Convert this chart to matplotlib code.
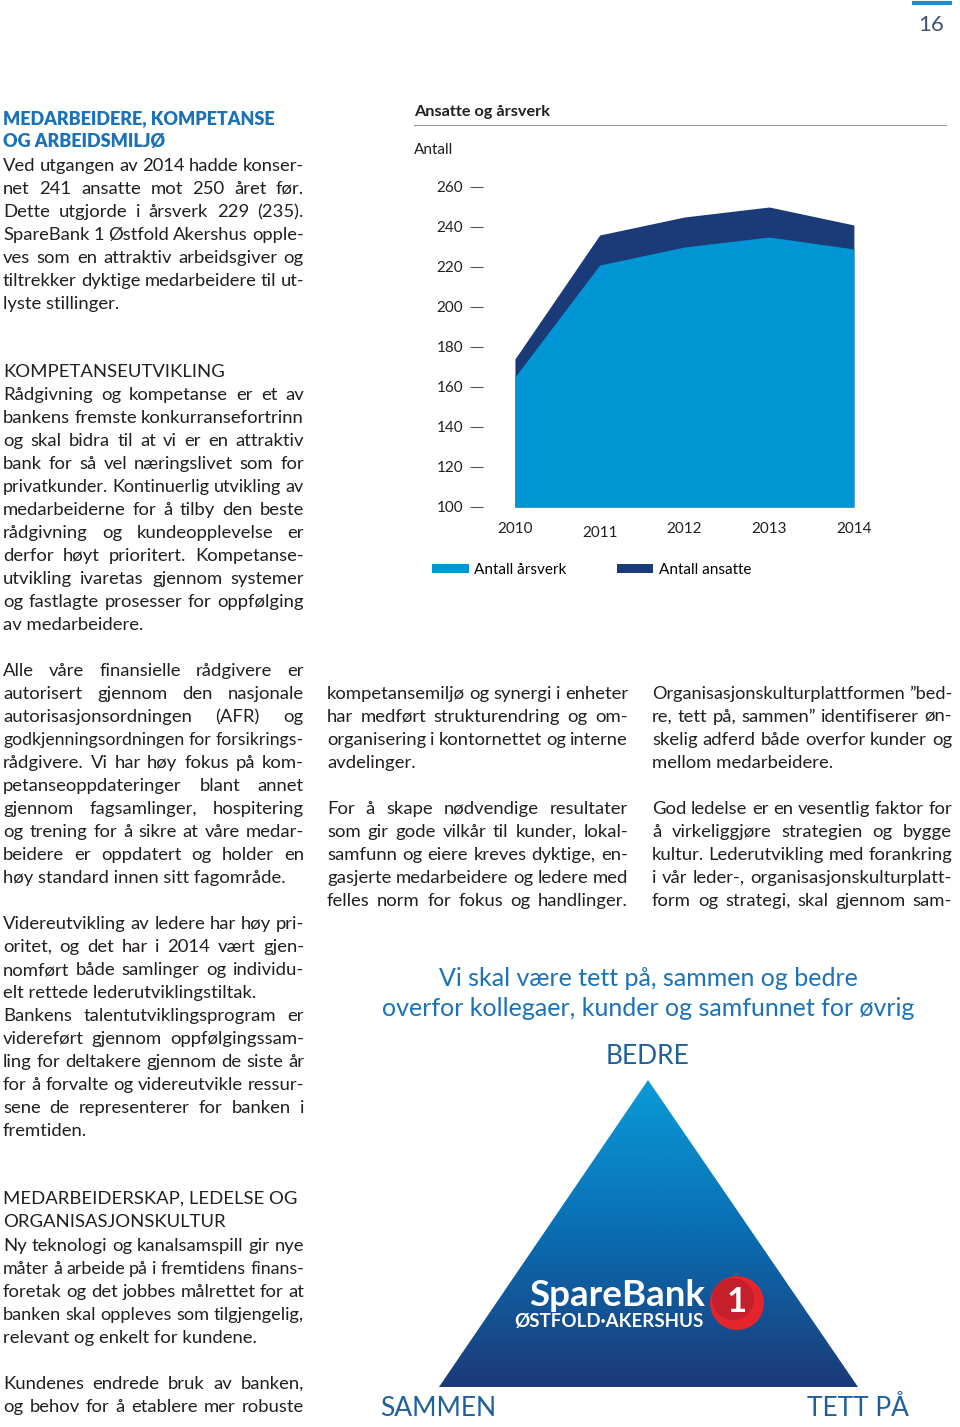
import matplotlib
matplotlib.use('Agg')
import matplotlib.pyplot as plt
import numpy as np
from matplotlib.patches import Polygon, Circle
from matplotlib.colors import LinearSegmentedColormap

FONT = 'Lato'
plt.rcParams['font.family'] = [FONT, 'DejaVu Sans']

# chart data
years = ['2010', '2011', '2012', '2013', '2014']
ansatte = [174, 236, 245, 250, 241]
arsverk = [165, 221, 230, 235, 229]
yticks = [100, 120, 140, 160, 180, 200, 220, 240, 260]

# page text
heading1 = ['MEDARBEIDERE, KOMPETANSE', 'OG ARBEIDSMILJØ']
para1 = ['Ved utgangen av 2014 hadde konser-',
         'net 241 ansatte mot 250 året før.',
         'Dette utgjorde i årsverk 229 (235).',
         'SpareBank 1 Østfold Akershus opple-',
         'ves som en attraktiv arbeidsgiver og',
         'tiltrekker dyktige medarbeidere til ut-',
         'lyste stillinger.']
heading2 = ['KOMPETANSEUTVIKLING']
para2 = ['Rådgivning og kompetanse er et av',
         'bankens fremste konkurransefortrinn',
         'og skal bidra til at vi er en attraktiv',
         'bank for så vel næringslivet som for',
         'privatkunder. Kontinuerlig utvikling av',
         'medarbeiderne for å tilby den beste',
         'rådgivning og kundeopplevelse er',
         'derfor høyt prioritert. Kompetanse-',
         'utvikling ivaretas gjennom systemer',
         'og fastlagte prosesser for oppfølging',
         'av medarbeidere.']
para3 = ['Alle våre finansielle rådgivere er',
         'autorisert gjennom den nasjonale',
         'autorisasjonsordningen (AFR) og',
         'godkjenningsordningen for forsikrings-',
         'rådgivere. Vi har høy fokus på kom-',
         'petanseoppdateringer blant annet',
         'gjennom fagsamlinger, hospitering',
         'og trening for å sikre at våre medar-',
         'beidere er oppdatert og holder en',
         'høy standard innen sitt fagområde.']
para4 = ['Videreutvikling av ledere har høy pri-',
         'oritet, og det har i 2014 vært gjen-',
         'nomført både samlinger og individu-',
         'elt rettede lederutviklingstiltak.']
para5 = ['Bankens talentutviklingsprogram er',
         'videreført gjennom oppfølgingssam-',
         'ling for deltakere gjennom de siste år',
         'for å forvalte og videreutvikle ressur-',
         'sene de representerer for banken i',
         'fremtiden.']
heading3 = ['MEDARBEIDERSKAP, LEDELSE OG', 'ORGANISASJONSKULTUR']
para6 = ['Ny teknologi og kanalsamspill gir nye',
         'måter å arbeide på i fremtidens finans-',
         'foretak og det jobbes målrettet for at',
         'banken skal oppleves som tilgjengelig,',
         'relevant og enkelt for kundene.']
para7 = ['Kundenes endrede bruk av banken,',
         'og behov for å etablere mer robuste']
mid1 = ['kompetansemiljø og synergi i enheter',
        'har medført strukturendring og om-',
        'organisering i kontornettet og interne',
        'avdelinger.']
mid2 = ['For å skape nødvendige resultater',
        'som gir gode vilkår til kunder, lokal-',
        'samfunn og eiere kreves dyktige, en-',
        'gasjerte medarbeidere og ledere med',
        'felles norm for fokus og handlinger.']
right1 = ['Organisasjonskulturplattformen \u201dbed-',
          're, tett på, sammen\u201d identifiserer øn-',
          'skelig adferd både overfor kunder og',
          'mellom medarbeidere.']
right2 = ['God ledelse er en vesentlig faktor for',
          'å virkeliggjøre strategien og bygge',
          'kultur. Lederutvikling med forankring',
          'i vår leder-, organisasjonskulturplatt-',
          'form og strategi, skal gjennom sam-']
quote = ['Vi skal være tett på, sammen og bedre',
         'overfor kollegaer, kunder og samfunnet for øvrig']

light_blue = '#0096d6'
navy = '#1b3a78'
text_col = '#231f20'
accent = '#1b72b8'
BODY = 13.3
LS = 23.0
MIN_GAP = 4.0

W, H = 960, 1427
fig = plt.figure(figsize=(W / 100, H / 100), dpi=100)
page = fig.add_axes([0, 0, 1, 1])
page.axis('off')
renderer = fig.canvas.get_renderer()


def fig_rect(x0, y0, x1, y1):
    return [x0 / W, 1 - y1 / H, (x1 - x0) / W, (y1 - y0) / H]


def word_w(s, size, weight):
    t = page.text(0, 0, s, fontsize=size, fontweight=weight)
    w = t.get_window_extent(renderer).width
    t.remove()
    return w


def draw_lines(x0, x1, y0, lines, justify=True, last_justified=False,
               size=BODY, color=text_col, weight='normal'):
    for i, line in enumerate(lines):
        y = y0 + i * LS
        words = line.split(' ')
        is_last = i == len(lines) - 1
        if not justify or len(words) == 1 or (is_last and not last_justified):
            page.text(x0, y, line, fontsize=size, color=color,
                      fontweight=weight, ha='left', va='center')
            continue
        fs = size
        widths = [word_w(w, fs, weight) for w in words]
        # shrink a too-long line a little so word gaps never collapse
        while sum(widths) + MIN_GAP * (len(words) - 1) > x1 - x0:
            fs -= 0.1
            widths = [word_w(w, fs, weight) for w in words]
        gap = (x1 - x0 - sum(widths)) / (len(words) - 1)
        xx = x0
        for w, wd in zip(words, widths):
            page.text(xx, y, w, fontsize=fs, color=color,
                      fontweight=weight, ha='left', va='center')
            xx += wd + gap


# left column
draw_lines(3, 304, 119, heading1, justify=False, size=13.0, color=accent, weight='heavy')
draw_lines(3, 304, 166, para1)
draw_lines(3, 304, 372, heading2, justify=False)
draw_lines(3, 304, 395, para2)
draw_lines(3, 304, 671, para3)
draw_lines(3, 304, 924, para4)
draw_lines(3, 304, 1016, para5)
draw_lines(3, 304, 1199, heading3, justify=False)
draw_lines(3, 304, 1246, para6)
draw_lines(3, 304, 1384, para7, last_justified=True)
# middle and right columns
draw_lines(327, 628, 694, mid1)
draw_lines(327, 628, 809, mid2, last_justified=True)
draw_lines(652, 952, 694, right1)
draw_lines(652, 952, 809, right2, last_justified=True)

# page number
page.plot([912, 952], [3, 3], color='#1a8fd0', lw=3, solid_capstyle='butt')
page.text(931, 25, '16', fontsize=16, color='#3e5570', ha='center', va='center')

# quote + triangle
for i, q in enumerate(quote):
    page.text(648, 979 + i * 29, q, fontsize=18, color=accent, ha='center', va='center')
page.text(648, 1056, 'BEDRE', fontsize=19, color='#1f5f9e', ha='center', va='center')
page.text(438, 1409, 'SAMMEN', fontsize=19, color='#1f5f9e', ha='center', va='center')
page.text(858, 1409, 'TETT PÅ', fontsize=19, color='#1f5f9e', ha='center', va='center')

tri = Polygon([(439, 1387), (648, 1080), (858, 1387)], closed=True,
              facecolor='none', edgecolor='none')
page.add_patch(tri)
grad = np.linspace(0, 1, 256).reshape(-1, 1)
cmap = LinearSegmentedColormap.from_list('tri', ['#0a9bd8', '#0a6db2', '#1c3a78'])
im = page.imshow(grad, extent=(439, 858, 1387, 1080), cmap=cmap,
                 aspect='auto', zorder=1)
im.set_clip_path(tri)

page.text(617, 1296, 'SpareBank', fontsize=26.5, fontweight='bold', color='white',
          ha='center', va='center', zorder=3)
page.text(609, 1322, 'ØSTFOLD\u00b7AKERSHUS', fontsize=13.5, fontweight='bold',
          color='white', ha='center', va='center', zorder=3)
page.add_patch(Circle((737, 1303), 27, facecolor='#e2262b', edgecolor='none', zorder=3))
page.add_patch(Circle((733, 1299), 21, facecolor='#c41f2a', edgecolor='none', zorder=3))
page.text(737, 1302, '1', fontsize=25, fontweight='bold', color='white',
          ha='center', va='center', zorder=4)

# chart header
page.text(414, 112, 'Ansatte og årsverk', fontsize=11.7, fontweight='bold',
          color=text_col, ha='left', va='center')
page.plot([414, 946], [125, 125], color='#9a9a9a', lw=0.8)
page.text(414, 150, 'Antall', fontsize=11, color=text_col, ha='left', va='center')

page.set_xlim(0, W)
page.set_ylim(H, 0)

# chart
ax = fig.add_axes(fig_rect(470, 187, 870, 507))
x = np.arange(len(years))
h_ans = ax.fill_between(x, 100, ansatte, color=navy, lw=0, label='Antall ansatte')
h_ars = ax.fill_between(x, 100, arsverk, color=light_blue, lw=0, label='Antall årsverk')
ax.set_xlim(-0.53, 4.19)
ax.set_ylim(100, 260)
for s in ax.spines.values():
    s.set_visible(False)
ax.set_facecolor('none')
ax.set_yticks(yticks)
ax.tick_params(axis='y', direction='in', length=9, width=0.8, color='#555555',
               pad=5, labelsize=11, labelcolor=text_col)
ax.set_xticks(x, years)
ax.tick_params(axis='x', length=0, pad=11, labelsize=11, labelcolor=text_col)
# 2011 label sits a little lower in the original
ax.get_xticklabels()[1].set_y(-0.012)

ax.legend(handles=[h_ars, h_ans], loc='center left',
          bbox_to_anchor=(432 / W, 1 - 570 / H), bbox_transform=fig.transFigure,
          ncol=2, frameon=False, fontsize=11, handlelength=2.4, handleheight=0.45,
          columnspacing=3.3, handletextpad=0.35, borderaxespad=0, borderpad=0)

fig.savefig('out.png', dpi=100)
